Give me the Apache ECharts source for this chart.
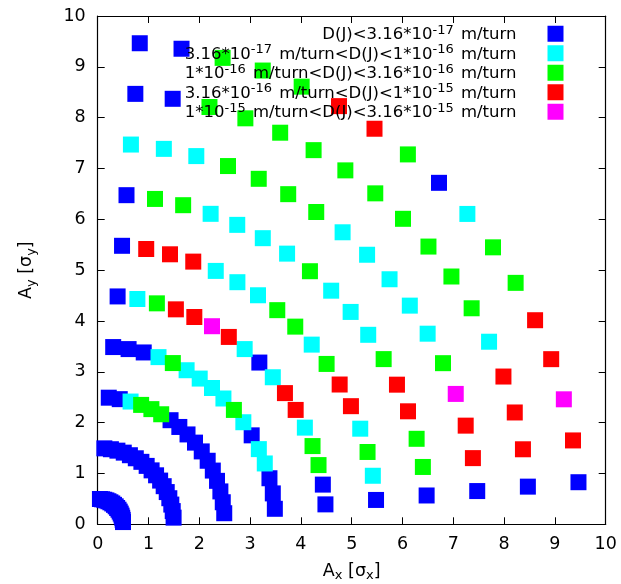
<!DOCTYPE html>
<html><head><meta charset="utf-8">
<script src="https://cdn.jsdelivr.net/npm/echarts@6/dist/echarts.min.js"></script>
<style>html,body{margin:0;padding:0;background:#fff}#c{width:621px;height:584px}</style>
</head><body><div id="c"></div><script>
// Category names (legend labels; ^ marks a superscript exponent)
const seriesNames = [
  'D(J)<3.16*10^-17 m/turn',
  '3.16*10^-17 m/turn<D(J)<1*10^-16 m/turn',
  '1*10^-16 m/turn<D(J)<3.16*10^-16 m/turn',
  '3.16*10^-16 m/turn<D(J)<1*10^-15 m/turn',
  '1*10^-15 m/turn<D(J)<3.16*10^-15 m/turn'
];
const seriesColors = ['#0000ff', '#00ffff', '#00ff00', '#ff0000', '#ff00ff'];
const xTicks = [0,1,2,3,4,5,6,7,8,9,10];
const yTicks = [0,1,2,3,4,5,6,7,8,9,10];

// [A_x, A_y] points per category
const blue = [
  [0.498,0.044],[0.492,0.087],[0.483,0.129],[0.470,0.171],[0.453,0.211],[0.433,0.250],[0.410,0.287],[0.383,0.321],[0.354,0.354],[0.321,0.383],[0.287,0.410],[0.250,0.433],[0.211,0.453],[0.171,0.470],[0.129,0.483],[0.087,0.492],[0.044,0.498],
  [1.494,0.131],[1.477,0.260],[1.449,0.388],[1.410,0.513],[1.359,0.634],[1.299,0.750],[1.229,0.860],[1.149,0.964],[1.061,1.061],[0.964,1.149],[0.860,1.229],[0.750,1.299],[0.634,1.359],[0.513,1.410],[0.388,1.449],[0.260,1.477],[0.131,1.494],
  [0.218,2.491],[0.434,2.462],[1.434,2.048],[1.607,1.915],[1.768,1.768],[1.915,1.607],[2.048,1.434],[2.165,1.250],[2.266,1.057],[2.349,0.855],[2.415,0.647],[2.462,0.434],[2.491,0.218],
  [0.305,3.487],[0.608,3.447],[0.906,3.381],[3.031,1.750],[3.381,0.906],[3.447,0.608],[3.487,0.305],
  [0.392,4.483],[3.182,3.182],[4.432,0.781],[4.483,0.392],
  [0.479,5.479],[5.479,0.479],
  [0.567,6.475],[6.475,0.567],
  [7.471,0.654],
  [0.741,8.468],[1.476,8.371],[8.468,0.741],
  [0.828,9.464],[1.650,9.356],[6.718,6.718],[9.464,0.828]
];
const cyan = [
  [0.647,2.415],
  [1.197,3.289],[1.750,3.031],[2.008,2.867],[2.250,2.681],[2.475,2.475],[2.867,2.008],[3.172,1.479],[3.289,1.197],
  [0.781,4.432],[2.893,3.447],[3.447,2.893],[4.078,1.902],
  [2.324,4.985],[2.750,4.763],[3.155,4.506],[4.213,3.535],[5.168,1.881],[5.416,0.955],
  [2.223,6.108],[2.747,5.891],[3.250,5.629],[3.728,5.325],[4.596,4.596],[4.979,4.178],[5.325,3.728],
  [0.654,7.471],[1.302,7.386],[1.941,7.244],[4.821,5.745],[5.303,5.303],[5.745,4.821],[6.144,4.302],[6.495,3.750],
  [7.704,3.592],
  [7.277,6.106]
];
const green = [
  [0.855,2.349],[1.057,2.266],[1.250,2.165],
  [1.479,3.172],[2.681,2.250],
  [1.165,4.347],[4.229,1.539],[4.347,1.165],
  [3.535,4.213],[3.889,3.889],[4.506,3.155],[5.312,1.423],
  [1.128,6.401],[1.682,6.278],[4.178,4.979],[5.629,3.250],[6.278,1.682],[6.401,1.128],
  [2.565,7.048],[3.170,6.797],[3.750,6.495],[4.302,6.144],[6.797,3.170],
  [2.200,8.210],[2.907,7.987],[3.592,7.704],[4.250,7.361],[4.875,6.963],[5.464,6.511],[6.010,6.010],[6.511,5.464],[6.963,4.875],[7.361,4.250],
  [2.459,9.176],[3.249,8.927],[4.015,8.610],[6.106,7.277],[7.782,5.449],[8.227,4.750]
];
const red = [
  [1.539,4.229],[1.902,4.078],[2.581,3.686],[3.686,2.581],[3.897,2.250],
  [0.955,5.416],[1.423,5.312],[1.881,5.168],[4.763,2.750],[4.985,2.324],
  [5.891,2.747],[6.108,2.223],
  [7.244,1.941],[7.386,1.302],
  [7.987,2.907],[8.210,2.200],[8.371,1.476],
  [4.750,8.227],[5.449,7.782],[8.610,4.015],[8.927,3.249],[9.356,1.650]
];
const magenta = [[2.250,3.897],[7.048,2.565],[9.176,2.459]];

const seriesData = [blue, cyan, green, red, magenta];

const FONT = "'DejaVu Sans', sans-serif";

function richLabel(name) {
  const parts = name.split(/\^(-?\d+)/);
  let out = '';
  parts.forEach((p, i) => {
    if (!p) return;
    out += (i % 2 === 1) ? '{s|' + p + '}' : '{t|' + p + '}';
  });
  return out;
}

const axisNameRich = {
  a: { fontSize: 17.5, fontFamily: FONT, color: '#000', lineHeight: 20, verticalAlign: 'top' },
  b: { fontSize: 13, fontFamily: FONT, color: '#000', lineHeight: 8, verticalAlign: 'bottom' }
};

const axisCommon = {
  type: 'value', min: 0, max: 10, interval: 1,
  axisLine: { show: true, onZero: false, lineStyle: { color: '#000', width: 1.2 } },
  axisTick: { show: true, inside: true, length: 7, lineStyle: { color: '#000', width: 1 } },
  splitLine: { show: false }
};

const option = {
  animation: false,
  backgroundColor: '#fff',
  grid: { left: 97.7, right: 15.3, top: 16, bottom: 59.7, containLabel: false, outerBoundsMode: 'none' },
  legend: {
    data: seriesNames,
    orient: 'vertical',
    align: 'right',
    right: 57.5,
    top: 24,
    padding: 0,
    itemGap: 0,
    itemWidth: 16,
    itemHeight: 16,
    icon: 'rect',
    selectedMode: false,
    formatter: richLabel,
    textStyle: {
      width: 345,
      padding: [0, 26, 0, 0],
      rich: {
        t: { fontSize: 16.5, fontFamily: FONT, color: '#000', lineHeight: 19.5, verticalAlign: 'bottom', align: 'right' },
        s: { fontSize: 13, fontFamily: FONT, color: '#000', lineHeight: 6, verticalAlign: 'top', align: 'right', padding: [0, 2, 0, 0] }
      }
    }
  },
  xAxis: [
    Object.assign({}, axisCommon, {
      position: 'bottom',
      axisLabel: { fontSize: 17.5, fontFamily: FONT, color: '#000', margin: 11,
        formatter: v => xTicks.includes(v) ? String(v) : '' },
      name: '{a|A}{b|x}{a| [σ}{b|x}{a|]}',
      nameLocation: 'middle', nameGap: 38,
      nameTextStyle: { rich: axisNameRich }
    }),
    Object.assign({}, axisCommon, { position: 'top', axisLabel: { show: false } })
  ],
  yAxis: [
    Object.assign({}, axisCommon, {
      position: 'left',
      axisLabel: { fontSize: 17.5, fontFamily: FONT, color: '#000', margin: 12,
        formatter: v => yTicks.includes(v) ? String(v) : '' },
      name: '{a|A}{b|y}{a| [σ}{b|y}{a|]}',
      nameLocation: 'middle', nameGap: 60, nameRotate: 90,
      nameTextStyle: { rich: axisNameRich }
    }),
    Object.assign({}, axisCommon, { position: 'right', axisLabel: { show: false } })
  ],
  series: seriesNames.map((n, i) => ({
    name: n,
    type: 'scatter',
    xAxisIndex: 0, yAxisIndex: 0,
    symbol: 'rect',
    symbolSize: 16,
    clip: false,
    itemStyle: { color: seriesColors[i], opacity: 1 },
    emphasis: { disabled: true },
    data: seriesData[i]
  }))
};

const chart = echarts.init(document.getElementById('c'), null, { renderer: 'canvas' });
chart.setOption(option);
</script></body></html>
